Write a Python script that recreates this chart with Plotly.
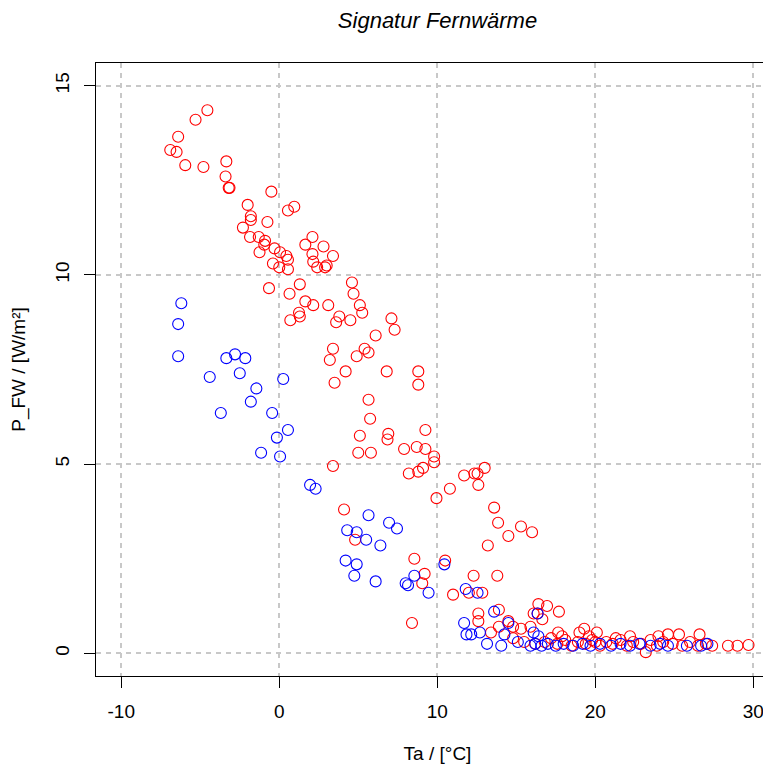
import plotly.graph_objects as go

# Red series (Ta, P_FW)
red_x = [-6.9, -6.5, -6.4, -5.95, -5.3, -4.55, -4.8, -3.35, -3.4, -3.2, -3.15, -0.5, -2.0, -1.8, -1.8,
         -0.75, 0.55, 0.95, -2.3, -1.85, -1.3, -0.9, -0.95, -1.25, -0.3, 0.05, 0.45, 0.55, -0.4, 0.0,
         0.55, 2.1, 1.65, 2.8, 2.1, 2.15, 2.4, 3.4, 3.0, 2.9, 4.6, 4.7, -0.65, 1.3, 0.65, 1.65, 2.15,
         1.25, 1.3, 0.7, 3.1, 5.1, 5.25, 3.8, 3.6, 4.5, 7.1, 7.3, 6.1, 3.4, 3.2, 5.4, 4.9, 5.65, 4.2,
         6.8, 8.8, 8.8, 3.5, 5.65, 5.75, 9.25, 5.1, 6.9, 6.85, 5.0, 5.8, 7.9, 8.7, 9.25, 9.8, 9.8,
         3.4, 4.1, 4.8, 8.55, 9.2, 9.05, 8.4, 8.2, 8.8, 9.1, 9.95, 10.5, 10.8, 11.7, 12.35, 12.55,
         12.6, 13.0, 13.6, 13.85, 14.5, 15.3, 16.0, 13.2, 12.3, 13.8, 12.0, 12.85, 11.0, 16.4, 16.95,
         13.9, 16.35, 16.1, 17.7, 12.6, 12.6, 16.65, 14.5, 13.9, 14.8, 15.3, 15.9, 13.4, 17.65, 17.9,
         19.0, 19.3, 20.1, 24.6, 25.3, 26.6, 28.4, 29.0, 29.7, 23.2,
         14.8, 15.5, 16.2, 16.8, 17.2, 17.6, 18.1, 18.5, 18.9, 19.4, 19.8, 20.3, 20.7, 21.1, 21.6,
         22.0, 22.4, 22.9, 23.5, 23.9, 24.3, 24.9, 25.5, 26.0, 26.5, 27.0, 27.4, 21.3, 22.2, 19.6,
         24.0, 20.0]
red_y = [13.3, 13.25, 13.65, 12.9, 14.1, 14.35, 12.85, 13.0, 12.6, 12.3, 12.3, 12.2, 11.85, 11.55, 11.45,
         11.4, 11.7, 11.8, 11.25, 11.0, 11.0, 10.9, 10.8, 10.6, 10.7, 10.6, 10.5, 10.4, 10.3, 10.2,
         10.15, 11.0, 10.8, 10.75, 10.55, 10.35, 10.2, 10.5, 10.25, 10.2, 9.8, 9.5, 9.65, 9.75, 9.5, 9.3, 9.2,
         9.0, 8.9, 8.8, 9.2, 9.2, 9.0, 8.9, 8.75, 8.8, 8.85, 8.55, 8.4, 8.05, 7.75, 8.05, 7.85, 7.95, 7.45,
         7.45, 7.45, 7.1, 7.15, 6.7, 6.2, 5.9, 5.75, 5.8, 5.65, 5.3, 5.3, 5.4, 5.45, 5.4, 5.2, 5.05,
         4.95, 3.8, 3.0, 2.5, 2.1, 1.85, 0.8, 4.75, 4.8, 4.9, 4.1, 2.45, 4.35, 4.7, 4.75, 4.75,
         4.45, 4.9, 3.85, 3.45, 3.1, 3.35, 3.2, 2.85, 2.05, 2.05, 1.6, 1.6, 1.55, 1.3, 1.25,
         1.15, 1.05, 1.05, 1.1, 1.05, 0.85, 0.9, 0.85, 0.7, 0.7, 0.65, 0.7, 0.55, 0.55, 0.45,
         0.55, 0.65, 0.55, 0.5, 0.5, 0.5, 0.2, 0.2, 0.22, 0.03,
         0.4, 0.3, 0.25, 0.3, 0.4, 0.25, 0.35, 0.2, 0.3, 0.25, 0.35, 0.2, 0.3, 0.25, 0.35,
         0.2, 0.3, 0.25, 0.35, 0.2, 0.3, 0.25, 0.2, 0.3, 0.2, 0.25, 0.2, 0.4, 0.45, 0.45,
         0.45, 0.3]

# Blue series (Ta, P_FW)
blue_x = [-6.2, -6.4, -6.4, -3.35, -2.8, -2.15, -2.5, -4.4, 0.25, -1.45, -1.8, -3.7, -0.45, 0.55, -0.15,
          -1.15, 0.05, 1.95, 2.3, 5.65, 4.3, 4.9, 5.5, 6.95, 7.45, 6.4, 4.2, 4.9, 4.75, 6.1, 8.0, 8.15,
          8.55, 9.45, 10.45, 11.8, 12.55, 11.7, 11.85, 12.15, 13.6, 14.5, 12.7, 14.25, 16.1, 16.35,
          13.15, 14.05, 15.1, 15.9, 16.2, 16.6, 17.0, 17.5, 18.0, 18.6, 19.2, 19.7, 20.3, 21.0, 21.6,
          22.2, 22.8, 23.5, 24.1, 24.6, 25.8, 26.7, 27.1, 16.4]
blue_y = [9.25, 8.7, 7.85, 7.8, 7.9, 7.8, 7.4, 7.3, 7.25, 7.0, 6.65, 6.35, 6.35, 5.9, 5.7,
          5.3, 5.2, 4.45, 4.35, 3.65, 3.25, 3.2, 3.0, 3.45, 3.3, 2.85, 2.45, 2.35, 2.05, 1.9, 1.85, 1.8,
          2.05, 1.6, 2.35, 1.7, 1.6, 0.8, 0.5, 0.5, 1.1, 0.8, 0.55, 0.5, 0.55, 1.05,
          0.25, 0.2, 0.3, 0.2, 0.25, 0.2, 0.25, 0.2, 0.25, 0.2, 0.25, 0.2, 0.25, 0.2, 0.25,
          0.2, 0.25, 0.2, 0.25, 0.2, 0.2, 0.2, 0.25, 0.45]

x_ticks = [-10, 0, 10, 20, 30]
y_ticks = [0, 5, 10, 15]

FONT = "Liberation Sans, Arial, sans-serif"

fig = go.Figure()
fig.add_trace(go.Scatter(x=red_x, y=red_y, mode="markers",
                         marker=dict(symbol="circle-open", size=11, color="#ff0000",
                                     line=dict(width=1.1, color="#ff0000")),
                         showlegend=False))
fig.add_trace(go.Scatter(x=blue_x, y=blue_y, mode="markers",
                         marker=dict(symbol="circle-open", size=11, color="#0000ff",
                                     line=dict(width=1.1, color="#0000ff")),
                         showlegend=False))

grid = dict(showgrid=True, gridcolor="#c8c8c8", gridwidth=2, griddash="5px,5px")

fig.update_layout(
    width=771, height=766,
    margin=dict(l=88, r=0, t=55, b=98, autoexpand=False),
    paper_bgcolor="white", plot_bgcolor="white",
    font=dict(family=FONT, size=19, color="#000000"),
    title=dict(text="<i>Signatur Fernwärme</i>", font=dict(family=FONT, size=22),
               x=0.5, xref="paper", xanchor="center", y=1 - 12 / 766, yref="container",
               yanchor="middle"),
    xaxis=dict(range=[-11.6, 31.63], tickvals=x_ticks, ticktext=[str(v) for v in x_ticks],
               showline=True, linecolor="black", linewidth=1.2, mirror=True,
               ticks="outside", ticklen=11, tickcolor="black", tickwidth=1,
               ticklabelstandoff=7, zeroline=False, automargin=False,
               title=dict(text="Ta / [°C]", font=dict(size=19), standoff=25), **grid),
    yaxis=dict(range=[-0.6, 15.6], tickvals=y_ticks, ticktext=[str(v) for v in y_ticks],
               showline=True, linecolor="black", linewidth=1.2, mirror=False,
               ticks="outside", ticklen=11, tickcolor="black", tickwidth=1,
               tickangle=-90, ticklabelstandoff=7, zeroline=False, automargin=False,
               title=dict(text="P_FW / [W/m²]", font=dict(size=19), standoff=22), **grid),
)

fig.write_html("out.html")
